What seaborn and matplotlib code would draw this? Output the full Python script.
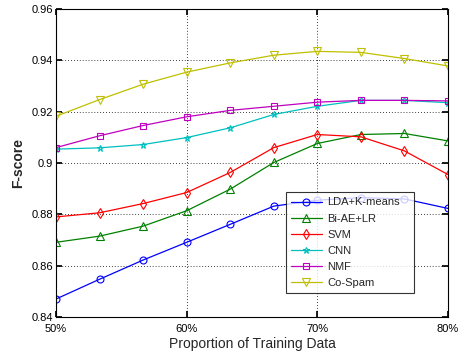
import numpy as np
import pandas as pd
import matplotlib
matplotlib.use("Agg")
import matplotlib.pyplot as plt
import seaborn as sns

x_vals = [50, 53.33, 56.67, 60, 63.33, 66.67, 70, 73.33, 76.67, 80]
x_ticks = [50, 60, 70, 80]
x_tick_labels = ["50%", "60%", "70%", "80%"]
y_ticks = [0.84, 0.86, 0.88, 0.90, 0.92, 0.94, 0.96]
y_tick_labels = ["0.84", "0.86", "0.88", "0.9", "0.92", "0.94", "0.96"]

methods = ["LDA+K-means", "Bi-AE+LR", "SVM", "CNN", "NMF", "Co-Spam"]
lda = [0.847, 0.8547, 0.8622, 0.8691, 0.8761, 0.8832, 0.8855, 0.8865, 0.886, 0.8823]
biae = [0.8691, 0.8715, 0.8754, 0.8814, 0.8898, 0.9002, 0.9076, 0.9111, 0.9115, 0.9086]
svm = [0.879, 0.8806, 0.8842, 0.8885, 0.8963, 0.906, 0.9111, 0.9102, 0.9047, 0.8955]
cnn = [0.9054, 0.9059, 0.9072, 0.9099, 0.9137, 0.9189, 0.9221, 0.9244, 0.9244, 0.9235]
nmf = [0.906, 0.9106, 0.9146, 0.918, 0.9205, 0.9221, 0.9237, 0.9244, 0.9244, 0.9242]
cospam = [0.9182, 0.9247, 0.9307, 0.9354, 0.939, 0.942, 0.9435, 0.9431, 0.9407, 0.9378]

series = [lda, biae, svm, cnn, nmf, cospam]
colors = ["#0000ff", "#008000", "#ff0000", "#00bfbf", "#bf00bf", "#bfbf00"]
markers = ["o", "^", "d", "*", "s", "v"]
msizes = [5, 6, 5.5, 5, 5, 6]

sns.set_theme(style="white")
plt.rcParams["font.family"] = ["Liberation Sans", "DejaVu Sans"]

fig = plt.figure(figsize=(4.58, 3.58), dpi=100)
ax = fig.add_axes([56 / 458, 41 / 358, 392 / 458, 308 / 358])

for name, vals, col, mk, ms in zip(methods, series, colors, markers, msizes):
    df = pd.DataFrame({"x": x_vals, "y": vals})
    sns.lineplot(data=df, x="x", y="y", ax=ax, color=col, marker=mk,
                 markersize=ms, linewidth=0.9,
                 markerfacecolor="none", markeredgecolor=col,
                 markeredgewidth=0.8, label=name)

ax.set_xlim(50, 80)
ax.set_ylim(0.84, 0.96)
ax.set_xticks(x_ticks)
ax.set_xticklabels(x_tick_labels)
ax.set_yticks(y_ticks)
ax.set_yticklabels(y_tick_labels)
ax.grid(True, linestyle=(0, (1, 2.5)), color="black", linewidth=0.6)
for s in ax.spines.values():
    s.set_color("black")
    s.set_linewidth(0.8)
ax.tick_params(axis="both", direction="in", length=4, labelsize=8,
               colors="black", bottom=True, left=True, top=True, right=True,
               labeltop=False, labelright=False, pad=2)
ax.tick_params(axis="x", pad=5)
ax.set_xlabel("Proportion of Training Data", fontsize=10, labelpad=2)
ax.set_ylabel("F-score", fontsize=10, fontweight="bold", labelpad=5)

leg = ax.legend(loc="lower left", bbox_to_anchor=(0.586, 0.078, 0.327, 0.341),
                mode="expand", fontsize=8, frameon=True, fancybox=False,
                borderaxespad=0, handlelength=2.8, handletextpad=0.5,
                labelspacing=0.55, borderpad=0.45)
leg.get_frame().set_edgecolor("black")
leg.get_frame().set_linewidth(0.8)

fig.savefig("out.png", dpi=100)
